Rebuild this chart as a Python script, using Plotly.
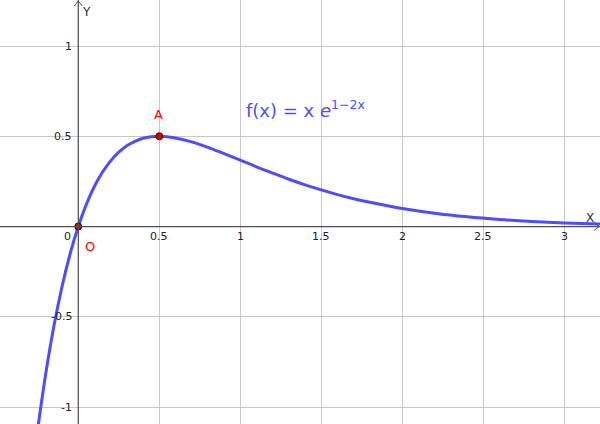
import plotly.graph_objects as go

# Curve samples (x, f(x))
curve_x = [-0.25, -0.2, -0.15, -0.1, -0.05, 0.0, 0.05, 0.1, 0.15, 0.2, 0.25, 0.3, 0.35, 0.4, 0.45,
           0.5, 0.6, 0.7, 0.8, 0.9, 1.0, 1.1, 1.2, 1.3, 1.4, 1.5, 1.6, 1.7, 1.8, 1.9, 2.0,
           2.2, 2.4, 2.6, 2.8, 3.0, 3.25]
curve_y = [-1.120, -0.811, -0.550, -0.332, -0.150, 0.0, 0.123, 0.223, 0.302, 0.364, 0.412, 0.448, 0.472, 0.489, 0.497,
           0.500, 0.491, 0.469, 0.439, 0.404, 0.368, 0.331, 0.296, 0.262, 0.231, 0.203, 0.177, 0.154, 0.134, 0.116, 0.0996,
           0.0734, 0.0537, 0.0390, 0.0281, 0.0202, 0.0133]

# Named points
point_names = ["A", "O"]
point_x = [0.5, 0.0]
point_y = [0.5, 0.0]

# Tick labels
x_ticks = [0.5, 1, 1.5, 2, 2.5, 3]
x_tick_text = ["0.5", "1", "1.5", "2", "2.5", "3"]
y_ticks = [1, 0.5, -0.5, -1]
y_tick_text = ["1", "0.5", "-0.5", "-1"]

X_RANGE = [-0.483, 3.220]
Y_RANGE = [-1.094, 1.255]

CURVE_COLOR = "rgb(77,77,255)"
AXIS_COLOR = "#505050"
FONT = "DejaVu Sans"

fig = go.Figure()
fig.add_trace(go.Scatter(x=curve_x, y=curve_y, mode="lines",
                         line=dict(color=CURVE_COLOR, width=3, shape="spline", smoothing=1.0),
                         hoverinfo="skip", showlegend=False))
fig.add_trace(go.Scatter(x=point_x, y=point_y, mode="markers",
                         marker=dict(color="rgb(220,0,0)", size=7, line=dict(color="#3a0000", width=1)),
                         showlegend=False))

shapes = []
# axes
shapes.append(dict(type="line", xref="x", yref="y", x0=X_RANGE[0], x1=X_RANGE[1], y0=0, y1=0,
                   line=dict(color=AXIS_COLOR, width=1.2), layer="above"))
shapes.append(dict(type="line", xref="x", yref="y", x0=0, x1=0, y0=Y_RANGE[0], y1=Y_RANGE[1],
                   line=dict(color=AXIS_COLOR, width=1.2), layer="above"))
# arrowheads (pixel-sized, anchored at axis ends)
for dx0, dy0 in [(-6, 4), (-6, -4)]:
    shapes.append(dict(type="line", xref="x", yref="y", xsizemode="pixel", ysizemode="pixel",
                       xanchor=X_RANGE[1], yanchor=0, x0=dx0, y0=dy0, x1=-1, y1=0,
                       line=dict(color=AXIS_COLOR, width=1)))
for dx0, dy0 in [(-4, -6), (4, -6)]:
    shapes.append(dict(type="line", xref="x", yref="y", xsizemode="pixel", ysizemode="pixel",
                       xanchor=0, yanchor=Y_RANGE[1], x0=dx0, y0=dy0, x1=0, y1=-1,
                       line=dict(color=AXIS_COLOR, width=1)))

ann = []
for v, t in zip(x_ticks, x_tick_text):
    ann.append(dict(x=v, y=0, xref="x", yref="y", text=t, showarrow=False, yshift=-10,
                    font=dict(family=FONT, size=11, color="#222")))
ann.append(dict(x=0, y=0, xref="x", yref="y", text="0", showarrow=False, yshift=-10, xshift=-5,
                xanchor="right", font=dict(family=FONT, size=11, color="#222")))
for v, t in zip(y_ticks, y_tick_text):
    ann.append(dict(x=0, y=v, xref="x", yref="y", text=t, showarrow=False, xshift=-4,
                    xanchor="right", font=dict(family=FONT, size=11, color="#222")))
# axis names
ann.append(dict(x=X_RANGE[1], y=0, xref="x", yref="y", text="X", showarrow=False, xshift=-10, yshift=9,
                font=dict(family=FONT, size=12, color="#333")))
ann.append(dict(x=0, y=Y_RANGE[1], xref="x", yref="y", text="Y", showarrow=False, xshift=8, yshift=-12,
                font=dict(family=FONT, size=12, color="#333")))
# point labels
ann.append(dict(x=point_x[0], y=point_y[0], xref="x", yref="y", text=point_names[0], showarrow=False,
                xshift=-1, yshift=22, font=dict(family=FONT, size=13, color="rgb(255,0,0)")))
ann.append(dict(x=point_x[1], y=point_y[1], xref="x", yref="y", text=point_names[1], showarrow=False,
                xshift=12, yshift=-20, font=dict(family=FONT, size=13, color="rgb(255,0,0)")))
# function label
ann.append(dict(x=1.405, y=0.652, xref="x", yref="y", text="f(x) = x <i>e</i><sup>1−2x</sup>",
                showarrow=False, font=dict(family=FONT, size=18, color=CURVE_COLOR)))

fig.update_layout(
    width=600, height=424, margin=dict(l=0, r=0, t=0, b=0),
    paper_bgcolor="white", plot_bgcolor="white",
    xaxis=dict(range=X_RANGE, tick0=0, dtick=0.5, showgrid=True, gridcolor="#c8c8c8", gridwidth=1,
               zeroline=False, showticklabels=False, ticks="", showline=False, fixedrange=True),
    yaxis=dict(range=Y_RANGE, tick0=0, dtick=0.5, showgrid=True, gridcolor="#c8c8c8", gridwidth=1,
               zeroline=False, showticklabels=False, ticks="", showline=False, fixedrange=True),
    shapes=shapes, annotations=ann, showlegend=False,
)

fig.write_html("out.html", config={"displayModeBar": False})
